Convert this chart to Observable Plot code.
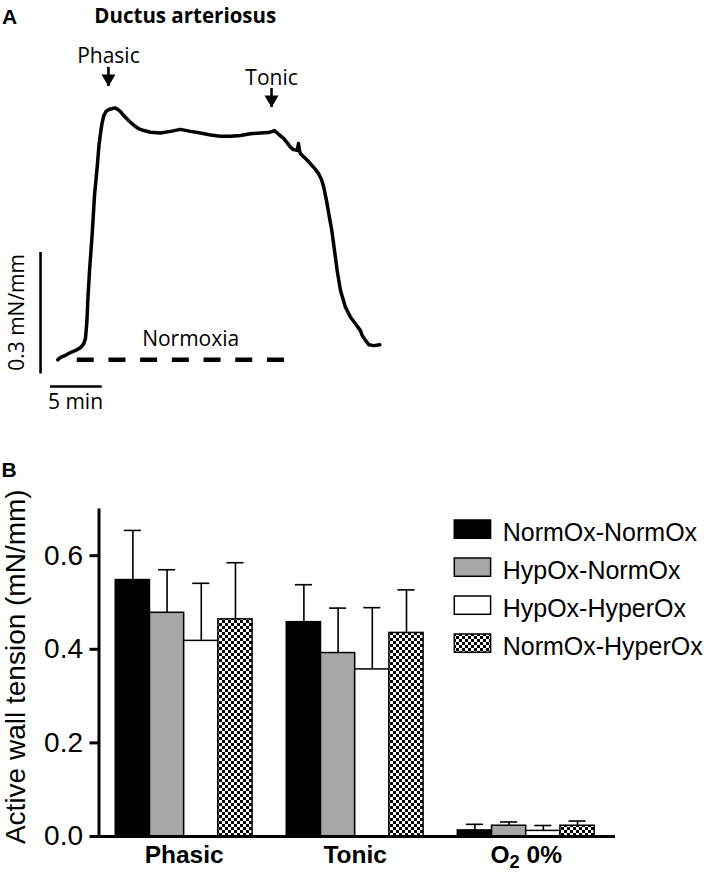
<!DOCTYPE html>
<html><head><meta charset="utf-8">
<script src="https://cdn.jsdelivr.net/npm/d3@7"></script>
<script src="https://cdn.jsdelivr.net/npm/@observablehq/plot@0.6"></script>
<style>
html,body{margin:0;padding:0;background:#fff;overflow:hidden;}
#wrap{position:relative;width:709px;height:882px;overflow:hidden;background:#fff;}
#wrap > svg{position:absolute;left:0;margin:0;}
</style></head><body><div id="wrap"></div>
<script>
// ---------- Panel A data (time in min, tension in mN/mm above baseline) ----------
const traceTime = [0,0.26,0.74,1.23,1.71,2.20,2.51,2.68,2.82,2.90,3.07,3.33,3.55,3.81,3.98,4.13,4.27,4.45,4.66,4.93,5.19,5.51,5.77,6.06,6.38,6.84,7.35,7.80,8.32,8.97,9.93,10.90,11.87,12.83,13.80,14.77,15.73,16.70,17.67,18.63,19.60,20.37,20.95,21.22,21.54,21.86,22.21,22.50,22.79,23.15,23.28,23.37,23.47,23.96,24.44,24.92,25.24,25.50,25.72,25.99,26.21,26.47,26.76,27.02,27.34,27.82,28.31,28.79,29.27,29.44,29.76,30.08,30.56,31.14];
const traceTension = [0,0.006,0.011,0.018,0.023,0.030,0.040,0.053,0.097,0.146,0.220,0.312,0.406,0.476,0.529,0.559,0.583,0.603,0.613,0.618,0.620,0.622,0.619,0.613,0.603,0.591,0.579,0.571,0.566,0.562,0.560,0.564,0.569,0.564,0.560,0.555,0.552,0.552,0.554,0.558,0.560,0.561,0.566,0.560,0.553,0.546,0.535,0.525,0.519,0.517,0.534,0.517,0.509,0.497,0.484,0.470,0.459,0.445,0.426,0.393,0.360,0.324,0.270,0.220,0.171,0.130,0.105,0.089,0.072,0.060,0.048,0.037,0.035,0.037];
const annLabels = ["Phasic", "Tonic"];
const annTime = [4.90, 20.67];
const annTip = [0.675, 0.623];
const annTop = [0.722, 0.670];
const annLabelY = [0.749, 0.695];
const normoxiaLabel = "Normoxia";
const normoxiaStart = 1.88, normoxiaEnd = 22.1, normoxiaLabelTime = 12.85, normoxiaLabelY = 0.05;
const scaleTime = 5;        // min
const scaleTension = 0.3;   // mN/mm
const scaleBarTime = -1.67, scaleBarBottom = -0.035;
const scaleBarLevel = -0.066, scaleBarStart = -0.706;
const scaleLabels = ["0.3 mN/mm", "5 min"];

// ---------- Panel B data ----------
const groupLabels = ["Phasic", "Tonic", "O\u2082 0%"];
const seriesNames = ["NormOx-NormOx", "HypOx-NormOx", "HypOx-HyperOx", "NormOx-HyperOx"];
const seriesFills = ["black", "#a6a6a6", "white", "url(#checker)"];
const normNormMean = [0.548, 0.458, 0.013];
const hypNormMean  = [0.478, 0.392, 0.023];
const hypHyperMean = [0.418, 0.357, 0.012];
const normHyperMean= [0.464, 0.435, 0.023];
const normNormErr  = [0.106, 0.080, 0.013];
const hypNormErr   = [0.092, 0.096, 0.008];
const hypHyperErr  = [0.123, 0.132, 0.0115];
const normHyperErr = [0.121, 0.092, 0.010];
const yTicks = [0, 0.2, 0.4, 0.6];
const yLabel = "Active wall tension (mN/mm)";

const wrap = document.getElementById("wrap");

// ---------- Panel A ----------
const trace = traceTime.map((t, i) => ({t, v: traceTension[i]}));
const ann = annLabels.map((label, i) => ({label, t: annTime[i], tip: annTip[i], top: annTop[i], ly: annLabelY[i]}));
const sansA = "'Open Sans', sans-serif";
const chartA = Plot.plot({
  width: 709, height: 440, margin: 0,
  x: {domain: [0, 30], range: [57.3, 57.3 + 30 * 10.34], axis: null},
  y: {domain: [0, 0.6], range: [359.3, 359.3 - 0.6 * 405], axis: null},
  style: {fontFamily: sansA, color: "black", background: "white"},
  marks: [
    Plot.ruleY([{v: 0}], {y: "v", x1: () => normoxiaStart, x2: () => normoxiaEnd, stroke: "black", strokeWidth: 4.5, strokeDasharray: "17,14.7"}),
    Plot.line(trace, {x: "t", y: "v", stroke: "black", strokeWidth: 3.5, strokeLinejoin: "round", strokeLinecap: "round"}),
    Plot.text([normoxiaLabel], {x: () => normoxiaLabelTime, y: () => normoxiaLabelY, fontSize: 21}),
    Plot.ruleX(ann, {x: "t", y1: "tip", y2: "top", stroke: "black", strokeWidth: 2.6}),
    Plot.dot(ann, {x: "t", y: "tip", symbol: "triangle", r: 5.2, rotate: 180, fill: "black", stroke: "none", dy: -8}),
    Plot.text(ann, {x: "t", y: "ly", text: "label", fontSize: 21}),
    // scale bars
    Plot.ruleX([scaleTension], {x: () => scaleBarTime, y1: () => scaleBarBottom, y2: d => scaleBarBottom + d, stroke: "black", strokeWidth: 2.6}),
    Plot.ruleY([scaleTime], {y: () => scaleBarLevel, x1: () => scaleBarStart, x2: d => scaleBarStart + d, stroke: "black", strokeWidth: 2.6}),
    Plot.text([scaleLabels[0]], {x: () => -3.90, y: () => 0.117, rotate: -90, fontSize: 21}),
    Plot.text([scaleLabels[1]], {x: () => 1.71, y: () => -0.104, fontSize: 21})
  ]
});
chartA.style.top = "0px";
wrap.appendChild(chartA);

// ---------- Panel B ----------
const meansBySeries = [normNormMean, hypNormMean, hypHyperMean, normHyperMean];
const errsBySeries = [normNormErr, hypNormErr, hypHyperErr, normHyperErr];
const groupStep = seriesNames.length + 1;
const bars = [];
groupLabels.forEach((g, gi) => seriesNames.forEach((s, si) => {
  bars.push({group: g, series: s, pos: gi * groupStep + si, mean: meansBySeries[si][gi], err: errsBySeries[si][gi]});
}));
const xDomain = [-0.49, 14.61];
const arial = "'Liberation Sans', Arial, sans-serif";
const chartB = Plot.plot({
  width: 709, height: 442,
  marginLeft: 98.5, marginRight: 94, marginTop: 68.4, marginBottom: 46,
  x: {domain: xDomain, axis: null},
  y: {domain: [0, 0.7], axis: null},
  color: {domain: seriesNames, range: seriesFills},
  style: {fontFamily: arial, fontSize: "28px", color: "black", background: "white"},
  marks: [
    Plot.rect(bars, {x1: "pos", x2: d => d.pos + 1, y1: () => 0, y2: "mean", fill: "series", stroke: "black", strokeWidth: 1.5}),
    Plot.ruleX(bars, {x: d => d.pos + 0.5, y1: "mean", y2: d => d.mean + d.err, stroke: "black", strokeWidth: 1.6}),
    Plot.ruleY(bars, {y: d => d.mean + d.err, x1: d => d.pos + 0.25, x2: d => d.pos + 0.75, stroke: "black", strokeWidth: 1.6}),
    Plot.ruleY([0], {stroke: "black", strokeWidth: 3}),
    Plot.ruleX([xDomain[0]], {y1: () => -0.003, y2: () => 0.7, stroke: "black", strokeWidth: 3}),
    Plot.axisY({ticks: yTicks, tickFormat: d3.format(".1f"), tickSize: 9, tickPadding: 7, strokeWidth: 3, label: null, fontSize: 28}),
    Plot.text(groupLabels, {x: (d, i) => i * groupStep + 2, y: () => 0, text: d => d, lineAnchor: "top", dy: 9, fontSize: 24.5, fontWeight: "bold"}),
    Plot.text([yLabel], {frameAnchor: "left", textAnchor: "middle", lineAnchor: "middle", rotate: -90, dx: -83, dy: -6, fontSize: 28})
  ]
});
chartB.style.top = "440px";
// checker pattern
const defsB = d3.select(chartB).insert("defs", ":first-child");
const pat = defsB.append("pattern").attr("id", "checker").attr("patternUnits", "userSpaceOnUse").attr("width", 6).attr("height", 6);
pat.append("rect").attr("width", 6).attr("height", 6).attr("fill", "white");
pat.append("rect").attr("width", 3).attr("height", 3).attr("fill", "black");
pat.append("rect").attr("x", 3).attr("y", 3).attr("width", 3).attr("height", 3).attr("fill", "black");
// subscript in "O2 0%"
d3.select(chartB).selectAll("text").each(function() {
  if (this.textContent === "O\u2082 0%") {
    const t = d3.select(this);
    t.text(null);
    t.append("tspan").text("O");
    t.append("tspan").attr("dy", "0.28em").attr("font-size", "0.75em").text("2");
    t.append("tspan").attr("dy", "-0.21em").text(" 0%");
  }
});
wrap.appendChild(chartB);

// ---------- Overlay: panel letters, title, legend ----------
const ov = d3.create("svg").attr("width", 709).attr("height", 882)
  .style("position", "absolute").style("left", "0px").style("top", "0px").style("pointer-events", "none");
const odefs = ov.append("defs");
const pat2 = odefs.append("pattern").attr("id", "checker2").attr("patternUnits", "userSpaceOnUse").attr("width", 6).attr("height", 6);
pat2.append("rect").attr("width", 6).attr("height", 6).attr("fill", "white");
pat2.append("rect").attr("width", 3).attr("height", 3).attr("fill", "black");
pat2.append("rect").attr("x", 3).attr("y", 3).attr("width", 3).attr("height", 3).attr("fill", "black");
ov.append("text").attr("x", 2).attr("y", 24).attr("font-family", arial).attr("font-weight", "bold").attr("font-size", 21).text("A");
ov.append("text").attr("x", 94.3).attr("y", 23.3).attr("font-family", sansA).attr("font-weight", "bold").attr("font-size", 20.5).text("Ductus arteriosus");
ov.append("text").attr("x", 1.5).attr("y", 476.5).attr("font-family", arial).attr("font-weight", "bold").attr("font-size", 21).text("B");
const legendFills = seriesFills.map(f => f === "url(#checker)" ? "url(#checker2)" : f);
seriesNames.forEach((s, i) => {
  const y0 = 520 + 38 * i;
  ov.append("rect").attr("x", 454.3).attr("y", y0).attr("width", 36.3).attr("height", 18.3)
    .attr("fill", legendFills[i]).attr("stroke", "black").attr("stroke-width", 1.5);
  ov.append("text").attr("x", 502.7).attr("y", y0 + 20.7).attr("font-family", arial).attr("font-size", 25).text(s);
});
wrap.appendChild(ov.node());
</script></body></html>
